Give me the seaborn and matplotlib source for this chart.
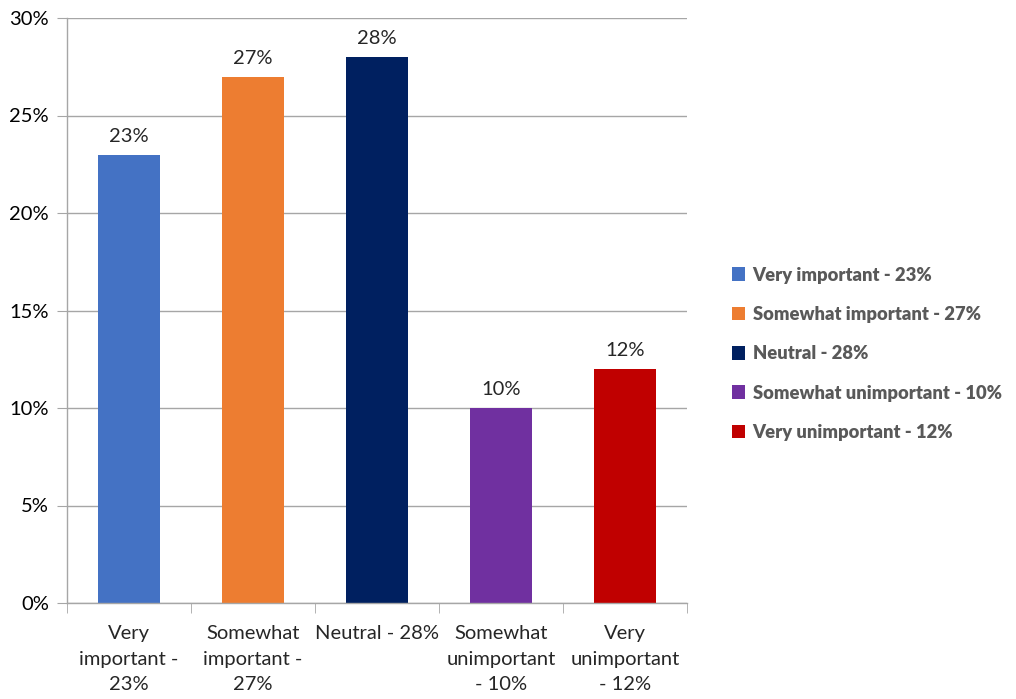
import numpy as np
import matplotlib
matplotlib.use("Agg")
import matplotlib.pyplot as plt
import seaborn as sns
from matplotlib.ticker import FixedLocator

categories = ["Very\nimportant -\n23%", "Somewhat\nimportant -\n27%", "Neutral - 28%",
              "Somewhat\nunimportant\n- 10%", "Very\nunimportant\n- 12%"]
values = [23, 27, 28, 10, 12]
legend_labels = ["Very important - 23%", "Somewhat important - 27%", "Neutral - 28%",
                 "Somewhat unimportant - 10%", "Very unimportant - 12%"]
colors = ["#4472C4", "#ED7D31", "#002060", "#7030A0", "#C00000"]

sns.set_style("white")
plt.rcParams["font.family"] = ["Lato", "DejaVu Sans"]

fig = plt.figure(figsize=(10.16, 6.99), dpi=100)
ax = fig.add_axes([67 / 1016, 1 - 603 / 699, 620 / 1016, 585 / 699])

sns.barplot(x=categories, y=values, hue=categories, palette=colors,
            width=0.5, legend=False, ax=ax, saturation=1, edgecolor="none")

ax.set_ylim(0, 30)
ax.set_xlim(-0.5, 4.5)
ax.set_yticks(np.arange(0, 31, 5))
ax.set_yticklabels([f"{v}%" for v in range(0, 31, 5)])
ax.yaxis.grid(True, color="#a6a6a6", linewidth=1)
ax.set_axisbelow(True)

for s in ["top", "right"]:
    ax.spines[s].set_visible(False)
for s in ["left", "bottom"]:
    ax.spines[s].set_color("#a6a6a6")
    ax.spines[s].set_linewidth(1)

ax.tick_params(axis="y", which="major", length=7, color="#a6a6a6", labelsize=14.5,
               labelcolor="black", left=True, pad=6)
ax.tick_params(axis="x", which="major", length=0, labelsize=14.5, pad=16)
ax.xaxis.set_minor_locator(FixedLocator(np.arange(-0.5, 5, 1)))
ax.tick_params(axis="x", which="minor", length=7, color="#a6a6a6", bottom=True)
for lab in ax.get_xticklabels():
    lab.set_verticalalignment("top")
    lab.set_linespacing(1.6)

for p, v in zip(ax.patches, values):
    ax.annotate(f"{v}%", (p.get_x() + p.get_width() / 2, p.get_height()),
                xytext=(0, 7), textcoords="offset points",
                ha="center", va="bottom", fontsize=14.5)

handles = ax.patches[:5]
leg = fig.legend(handles, legend_labels, loc="upper left",
                 bbox_to_anchor=(715 / 1016, 1 - 250 / 699), frameon=False,
                 handlelength=0.75, handleheight=0.75, handletextpad=0.4,
                 labelspacing=1.22, prop={"weight": "heavy", "size": 13.2})
for t in leg.get_texts():
    t.set_color("#595959")

ax.set_xlabel("")
ax.set_ylabel("")
fig.savefig("out.png", dpi=100)
